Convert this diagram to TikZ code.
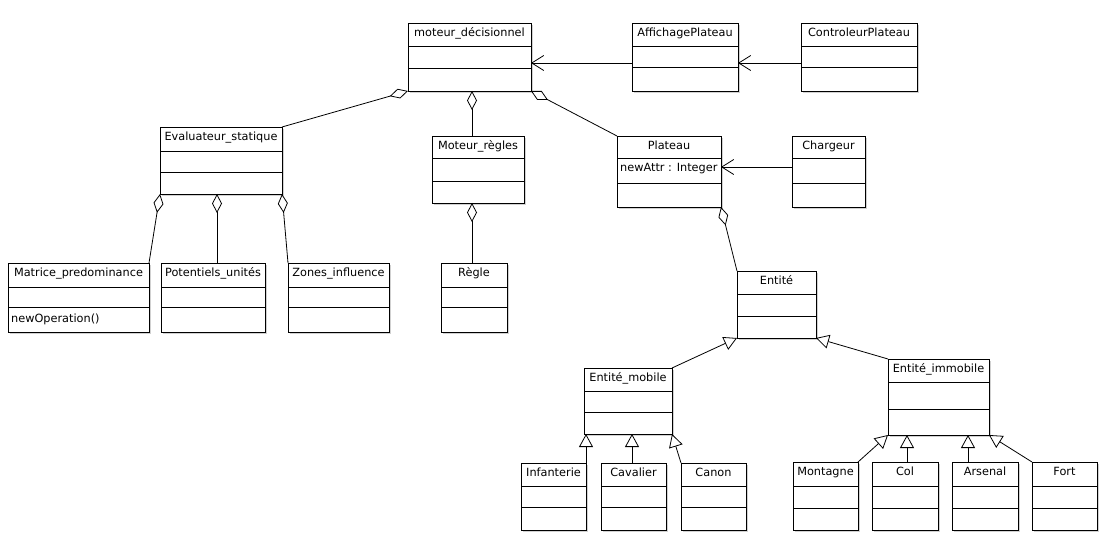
\documentclass[tikz,border=0pt]{standalone}
\usepackage{fontspec}
\setmainfont{DejaVu Sans}
\usetikzlibrary{arrows.meta,shadows}
\tikzset{
  classbox/.style={draw,line width=0.8pt,fill=white,inner sep=0pt,outer sep=0pt,
    drop shadow={shadow xshift=2pt,shadow yshift=-2pt,fill=black!18,opacity=1}},
  divider/.style={line width=0.8pt},
  titletext/.style={font=\fontsize{11.3}{13}\selectfont,anchor=base,inner sep=0pt},
  attrtext/.style={font=\fontsize{11.3}{13}\selectfont,anchor=base west,inner sep=0pt},
  assoc/.style={line width=0.8pt,-{Straight Barb[length=12pt,width=15pt]}},
  agg/.style={line width=0.8pt,{Diamond[open,length=19pt,width=10pt]}-},
  gen/.style={line width=0.8pt,-{Triangle[open,length=13pt,width=14pt]}},
}
\newcommand\umlclass[8]{%
  \pgfmathsetmacro\clw{#4-#2}%
  \pgfmathsetmacro\clh{#5-#3}%
  \node[classbox,anchor=north west,minimum width=\clw pt,minimum height=\clh pt] (#1) at (#2,#3) {};
  \draw[divider] (#1.west |- 0,#6) -- (#1.east |- 0,#6);
  \draw[divider] (#1.west |- 0,#7) -- (#1.east |- 0,#7);
  \path (#1.north) ++(0,13.5) node[titletext] (#1-t) {#8};
}
\begin{document}
\begin{tikzpicture}[x=1pt,y=-1pt]
\useasboundingbox[fill=white] (0,0) rectangle (1110,553);
\umlclass{mot}{408}{23}{531}{91}{46}{68}{moteur\_décisionnel}
\umlclass{aff}{632}{23}{738}{91}{46}{67}{AffichagePlateau}
\umlclass{ctrl}{801}{23}{917}{91}{46}{67}{ControleurPlateau}
\umlclass{eval}{160}{127}{282}{194}{151}{172}{Evaluateur\_statique}
\umlclass{mr}{432}{136}{524}{203}{158}{181}{Moteur\_règles}
\umlclass{plat}{617}{136}{721}{207}{158}{183}{Plateau}
\umlclass{charg}{792}{136}{865}{207}{158}{183}{Chargeur}
\umlclass{mat}{8}{263}{149}{332}{287}{307}{Matrice\_predominance}
\umlclass{pot}{161}{263}{265}{332}{287}{307}{Potentiels\_unités}
\umlclass{zones}{288}{263}{389}{332}{287}{307}{Zones\_influence}
\umlclass{regle}{441}{263}{507}{332}{287}{307}{Règle}
\umlclass{ent}{737}{271}{816}{338}{294}{316}{Entité}
\umlclass{em}{584}{368}{672}{434}{391}{412}{Entité\_mobile}
\umlclass{ei}{888}{359}{989}{435}{382}{409}{Entité\_immobile}
\umlclass{inf}{521}{463}{586}{530}{486}{507}{Infanterie}
\umlclass{cav}{601}{463}{666}{530}{486}{507}{Cavalier}
\umlclass{canon}{681}{463}{746}{530}{486}{507}{Canon}
\umlclass{mont}{793}{462}{858}{530}{486}{508}{Montagne}
\umlclass{col}{872}{462}{938}{530}{486}{508}{Col}
\umlclass{ars}{952}{462}{1018}{530}{486}{508}{Arsenal}
\umlclass{fort}{1032}{462}{1097}{530}{486}{508}{Fort}
% attributes / operations
\node[attrtext] (plat-a) at (620,172) {newAttr : Integer};
\node[attrtext] (mat-o) at (11,322) {newOperation()};
% associations
\draw[assoc] ([yshift=-6pt]aff.west) -- ([yshift=-6pt]mot.east);
\draw[assoc] ([yshift=-6pt]ctrl.west) -- ([yshift=-6pt]aff.east);
\draw[assoc] ([yshift=4.5pt]charg.west) -- ([yshift=4.5pt]plat.east);
% aggregations
\draw[agg] (mot.south west) -- (eval.north east);
\draw[agg] ([xshift=2.5pt]mot.south) -- ([xshift=2.5pt]mot.south |- mr.north);
\draw[agg] (mot.south east) -- (plat.north west);
\draw[agg] (eval.south west) -- (mat.north east);
\draw[agg] ([xshift=-4pt]eval.south) -- ([xshift=-4pt]eval.south |- pot.north);
\draw[agg] (eval.south east) -- (zones.north west);
\draw[agg] ([xshift=-6pt]mr.south) -- ([xshift=-6pt]mr.south |- regle.north);
\draw[agg] (plat.south east) -- (ent.north west);
% generalizations
\draw[gen] (em.north east) -- (ent.south west);
\draw[gen] (ei.north west) -- (ent.south east);
\draw[gen] (inf.north east) -- (inf.north east |- em.south);
\draw[gen] ([xshift=-1.5pt]cav.north) -- ([xshift=-1.5pt]cav.north |- em.south);
\draw[gen] (canon.north west) -- (em.south east);
\draw[gen] (mont.north east) -- (ei.south west);
\draw[gen] ([xshift=2pt]col.north) -- ([xshift=2pt]col.north |- ei.south);
\draw[gen] ([xshift=16pt]ars.north west) -- ([xshift=16pt]ars.north west |- ei.south);
\draw[gen] (fort.north west) -- (ei.south east);
\end{tikzpicture}
\end{document}
